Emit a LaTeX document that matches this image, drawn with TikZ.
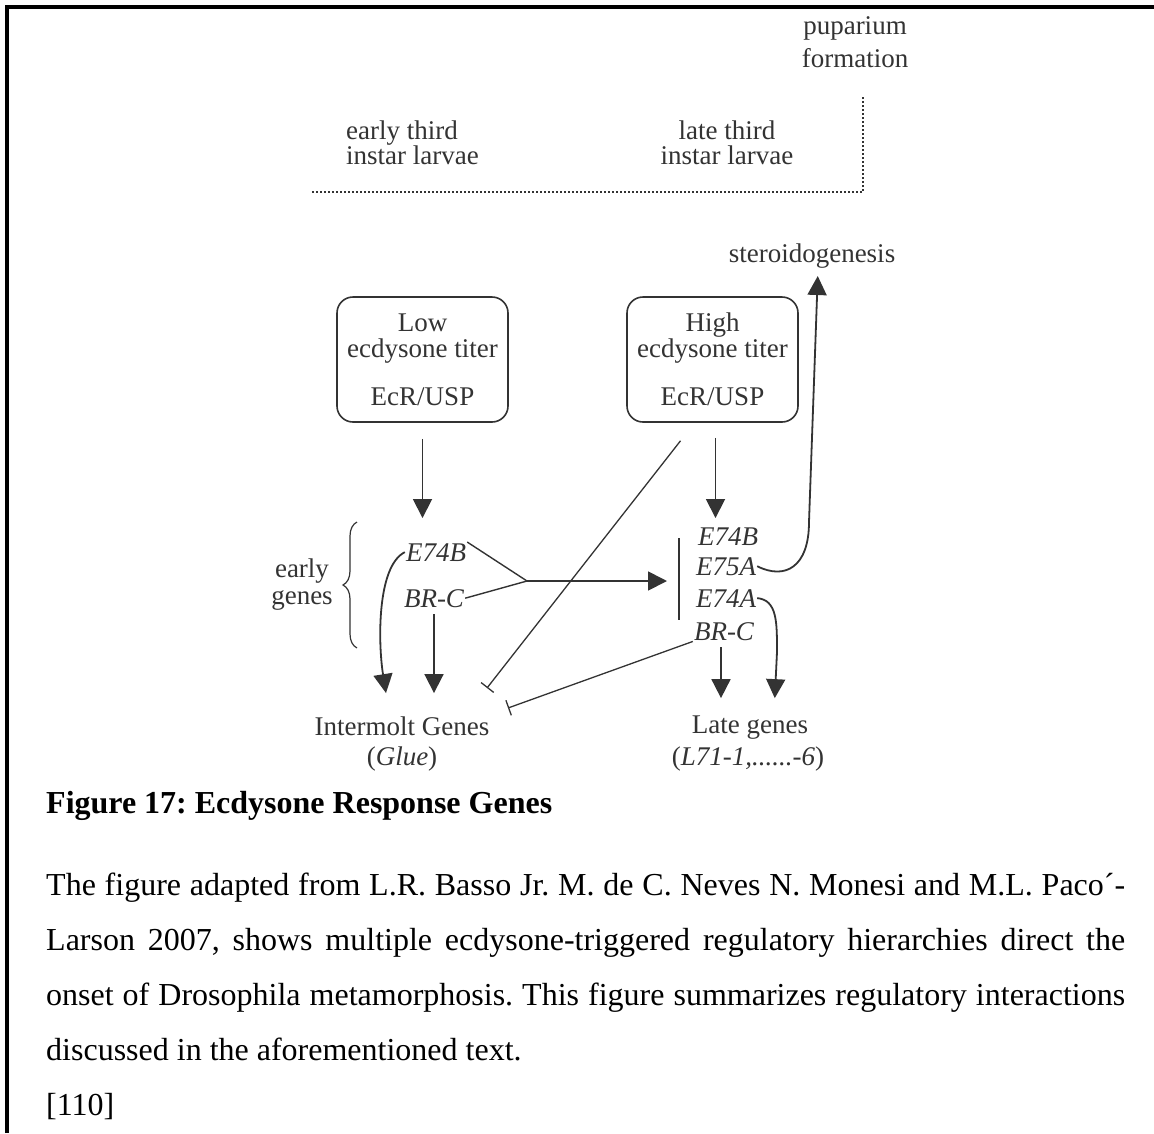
\documentclass[tikz,border=0pt]{standalone}
\usepackage{fontspec}
\setmainfont{Liberation Serif}
\usetikzlibrary{arrows.meta,decorations.pathreplacing}
\definecolor{diag}{gray}{0.2}
\frenchspacing

\begin{document}
\begin{tikzpicture}[x=1pt,y=-1pt,
  lbl/.style={text=diag,inner sep=1pt,font=\fontsize{27}{24}\selectfont},
  gene/.style={lbl,font=\fontsize{27}{24}\selectfont\itshape},
  titerbox/.style={lbl,draw=diag,line width=1.6pt,rounded corners=16pt,minimum width=171pt,minimum height=125pt,align=center,font=\fontsize{27}{26}\selectfont},
  arr/.style={draw=diag,line width=1.8pt,-{Triangle[length=19pt,width=19pt]}},
  inhib/.style={draw=diag,line width=1.3pt,-{Bar[width=16pt,line width=1.3pt]}},
  plain/.style={draw=diag,line width=1.4pt},
  timeline/.style={draw=diag,line width=2pt,dash pattern=on 2pt off 2pt},
  body/.style={anchor=base west,inner sep=0pt,font=\fontsize{32}{55}\selectfont}]
\useasboundingbox (0,0) rectangle (1154,1133);
% page frame
\draw[line width=4pt] (7,1133) -- (7,7) -- (1154,7);

% time line
\node[lbl,anchor=base] (pup1) at (855,34) {puparium};
\node[lbl,anchor=base] (pup2) at (855,67) {formation};
\draw[timeline] (312,192) -- (863,192) -- (863,97);
\node[lbl,anchor=base west] (early1) at (345,139) {early third};
\node[lbl,anchor=base west] (early2) at (345,164) {instar larvae};
\node[lbl,anchor=base] (late1) at (727,139) {late third};
\node[lbl,anchor=base] (late2) at (727,164) {instar larvae};

% titer boxes
\node[lbl,anchor=base] (steroid) at (812,262) {steroidogenesis};
\node[titerbox] (lowbox) at (422.5,359.5) {Low\\ecdysone titer\\[22pt]EcR/USP};
\node[titerbox] (hibox) at (712.5,359.5) {High\\ecdysone titer\\[22pt]EcR/USP};

% genes
\node[gene,anchor=base] (lE74B) at (436,561) {E74B};
\node[gene,anchor=base] (lBRC) at (434,607) {BR-C};
\node[gene,anchor=base] (rE74B) at (728,545) {E74B};
\node[gene,anchor=base] (rE75A) at (726,575) {E75A};
\node[gene,anchor=base] (rE74A) at (726,607) {E74A};
\node[gene,anchor=base] (rBRC) at (724,640) {BR-C};
\node[lbl,anchor=base] (early3) at (302,577) {early};
\node[lbl,anchor=base] (early4) at (302,604) {genes};
\draw[plain,line width=1.2pt,decorate,decoration={brace,amplitude=14pt}] (357,648) -- (357,522);

\node[lbl,anchor=base] (imolt) at (402,735) {Intermolt Genes};
\node[lbl,anchor=base] (glue) at (402,765) {(\textit{Glue})};
\node[lbl,anchor=base] (lategenes) at (750,733) {Late genes};
\node[lbl,anchor=base] (lgl) at (748,765) {(\textit{L71-1,......-6})};

\coordinate (jn) at (527,581);
\coordinate (barT) at (679,538);
\coordinate (barB) at (679,620);
\coordinate (inhA) at (487,688);
\coordinate (inhB) at (508,708);
\coordinate (sbend) at (809,522);
\coordinate (lbend) at (777,652);

% connectors
\draw[arr,shorten <=16pt,shorten >=24pt] (lowbox.south) -- (lowbox.south |- lE74B.north);
\draw[arr,shorten <=15pt,shorten >=8pt] ([xshift=3pt]hibox.south) -- ([xshift=3pt]hibox.south |- rE74B.north);
\draw[plain] (lE74B.north east) -- (jn);
\draw[plain] (lBRC.east) -- (jn);
\draw[arr,shorten >=12pt] (jn) -- (jn -| barT);
\draw[plain] (barT) -- (barB);
\draw[arr] (lE74B.west) .. controls +(-28,14) and +(-8,-50) .. ([xshift=-16pt,yshift=22pt]imolt.north);
\draw[arr,shorten <=6pt] (lBRC.south) -- ([yshift=22pt]lBRC.south |- imolt.north);
\draw[inhib] ([xshift=-32pt,yshift=-18pt]hibox.south) -- (inhA);
\draw[inhib] (rBRC.south west) -- (inhB);
\draw[arr,shorten >=7pt] (rE75A.east) .. controls +(28,14) and +(0,45) .. (sbend) -- ([xshift=6pt]steroid.south);
\draw[arr,shorten >=16pt] (rE74A.east) .. controls +(20,2) and +(0,-30) .. (lbend) -- ([xshift=-3pt]lbend |- lategenes.north);
\draw[arr,shorten <=6pt,shorten >=16pt] ([xshift=-3pt]rBRC.south) -- ([xshift=-3pt]rBRC.south |- lategenes.north);

% caption
\node[anchor=base west,inner sep=0pt,font=\fontsize{32}{38}\selectfont\bfseries] (figcap) at (46,813) {Figure 17: Ecdysone Response Genes};
\node[body] (txt1) at (46,895) {\makebox[1079pt][s]{The figure adapted from L.R. Basso Jr. M. de C. Neves N. Monesi and M.L. Paco´-}};
\node[body] (txt2) at (46,950) {\makebox[1079pt][s]{Larson 2007, shows multiple ecdysone-triggered regulatory hierarchies direct the}};
\node[body] (txt3) at (46,1005) {\makebox[1079pt][s]{onset of Drosophila metamorphosis. This figure summarizes regulatory interactions}};
\node[body] (txt4) at (46,1060) {discussed in the aforementioned text.};
\node[body] (ref) at (46,1115) {[110]};
\end{tikzpicture}
\end{document}
